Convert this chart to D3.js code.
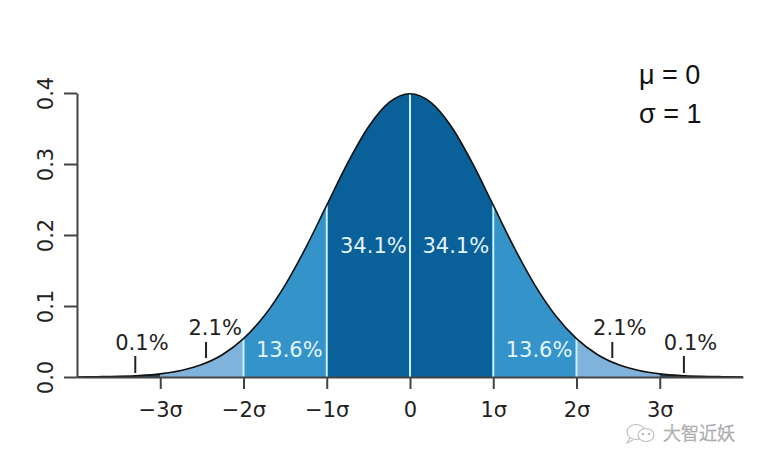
<!DOCTYPE html>
<html>
<head>
<meta charset="utf-8">
<script src="https://cdn.jsdelivr.net/npm/d3@7"></script>
<style>
  body { margin: 0; background: #fff; }
  svg { display: block; }
</style>
</head>
<body>
<div id="chart"></div>
<script>
// density of the curve, every quarter sigma
const curveX = [-4, -3.75, -3.5, -3.25, -3, -2.75, -2.5, -2.25, -2, -1.75, -1.5, -1.25, -1, -0.75, -0.5, -0.25,
  0, 0.25, 0.5, 0.75, 1, 1.25, 1.5, 1.75, 2, 2.25, 2.5, 2.75, 3, 3.25, 3.5, 3.75, 4];
const curveY = [0.0001, 0.0004, 0.0009, 0.0020, 0.0044, 0.0091, 0.0175, 0.0317, 0.0540, 0.0863, 0.1295, 0.1826,
  0.2420, 0.3011, 0.3521, 0.3867, 0.3989, 0.3867, 0.3521, 0.3011, 0.2420, 0.1826, 0.1295, 0.0863, 0.0540,
  0.0317, 0.0175, 0.0091, 0.0044, 0.0020, 0.0009, 0.0004, 0.0001];

// shaded bands (in sigma)
const bandStart = [-4, -3, -2, -1, 1, 2, 3];
const bandEnd = [-3, -2, -1, 1, 2, 3, 4];
const bandColor = ["#26465a", "#80b3dc", "#3493c9", "#0a6199", "#3493c9", "#80b3dc", "#26465a"];
const dividers = [-2, -1, 0, 1, 2];

// percentages inside the bands
const innerLabels = ["13.6%", "34.1%", "34.1%", "13.6%"];
const innerAt = [-1.45, -0.44, 0.55, 1.55];

// percentages above the tails, with a pointer tick
const outerLabels = ["0.1%", "2.1%", "2.1%", "0.1%"];
const outerAt = [-3.22, -2.34, 2.52, 3.37];
const outerTickAt = [-3.3, -2.45, 2.43, 3.29];
const outerLevel = ["low", "high", "high", "low"];

const xTicks = [-3, -2, -1, 0, 1, 2, 3];
const xTickLabels = ["\u22123\u03c3", "\u22122\u03c3", "\u22121\u03c3", "0", "1\u03c3", "2\u03c3", "3\u03c3"];
const yTicks = [0.0, 0.1, 0.2, 0.3, 0.4];

const params = ["\u03bc = 0", "\u03c3 = 1"];

const width = 763, height = 464;
const font = "'DejaVu Sans', sans-serif";

const svg = d3.select("#chart").append("svg")
  .attr("width", width).attr("height", height)
  .style("background", "#fff");

const x = d3.scaleLinear().domain([-4, 4]).range([77, 743]);
const y = d3.scaleLinear().domain([0, 0.4]).range([377, 93]);

const pts = curveX.map((d, i) => ({ x: d, y: curveY[i] }));

// bands
const area = d3.area()
  .x(d => x(d.x))
  .y0(y(0))
  .y1(d => y(d.y))
  .curve(d3.curveMonotoneX);

bandStart.forEach((a, i) => {
  const b = bandEnd[i];
  svg.append("path")
    .attr("d", area(pts.filter(p => p.x >= a && p.x <= b)))
    .attr("fill", bandColor[i]);
});

// divider lines
svg.selectAll(".divider")
  .data(dividers)
  .join("line")
  .attr("class", "divider")
  .attr("x1", d => x(d)).attr("x2", d => x(d))
  .attr("y1", y(0))
  .attr("y2", d => y(curveY[curveX.indexOf(d)]))
  .attr("stroke", "#c9f1ff")
  .attr("stroke-width", 2);

// the curve
const line = d3.line()
  .x(d => x(d.x))
  .y(d => y(d.y))
  .curve(d3.curveMonotoneX);

svg.append("path")
  .attr("d", line(pts))
  .attr("fill", "none")
  .attr("stroke", "#111")
  .attr("stroke-width", 1.6);

// axes
const xAxis = svg.append("g")
  .attr("transform", "translate(0," + y(0) + ")")
  .call(d3.axisBottom(x).tickValues(xTicks).tickSize(12).tickSizeOuter(0)
    .tickFormat((d, i) => xTickLabels[i]));

xAxis.selectAll("text")
  .attr("y", 40).attr("dy", null)
  .attr("fill", "#222")
  .style("font", "21px " + font);

const yAxis = svg.append("g")
  .attr("transform", "translate(" + x(-4) + ",0)")
  .call(d3.axisLeft(y).tickValues(yTicks).tickSize(13).tickSizeOuter(0)
    .tickFormat(d3.format(".1f")));

yAxis.selectAll("text")
  .attr("x", 0).attr("y", -31).attr("dy", null)
  .attr("transform", "rotate(-90)")
  .attr("text-anchor", "middle")
  .attr("dominant-baseline", "central")
  .attr("fill", "#222")
  .style("font", "21px " + font);

svg.selectAll(".domain, .tick line")
  .attr("stroke", "#444")
  .attr("stroke-width", 2);

// labels inside bands
svg.selectAll(".inner")
  .data(innerLabels)
  .join("text")
  .attr("class", "inner")
  .attr("x", (d, i) => x(innerAt[i]))
  .attr("y", (d, i) => (Math.abs(innerAt[i]) < 1 ? 253 : 357))
  .attr("text-anchor", "middle")
  .attr("fill", "#e3f5ff")
  .style("font", "21px " + font)
  .text(d => d);

// labels above tails
svg.selectAll(".outer")
  .data(outerLabels)
  .join("text")
  .attr("class", "outer")
  .attr("x", (d, i) => x(outerAt[i]))
  .attr("y", (d, i) => (outerLevel[i] === "high" ? 335 : 350))
  .attr("text-anchor", "middle")
  .attr("fill", "#222")
  .style("font", "21px " + font)
  .text(d => d);

svg.selectAll(".pointer")
  .data(outerTickAt)
  .join("line")
  .attr("class", "pointer")
  .attr("x1", d => x(d)).attr("x2", d => x(d))
  .attr("y1", (d, i) => (outerLevel[i] === "high" ? 342 : 356))
  .attr("y2", (d, i) => (outerLevel[i] === "high" ? 358 : 373))
  .attr("stroke", "#222")
  .attr("stroke-width", 2);

// parameters, top right
svg.selectAll(".param")
  .data(params)
  .join("text")
  .attr("class", "param")
  .attr("x", 639)
  .attr("y", (d, i) => 84 + i * 39)
  .attr("fill", "#111")
  .attr("xml:space", "preserve")
  .style("font", "27px 'Liberation Sans', sans-serif")
  .text(d => d);

// watermark
const wm = svg.append("g").attr("fill", "none").attr("stroke", "#bdbdbd").attr("stroke-width", 1.1);
wm.append("ellipse").attr("cx", 636).attr("cy", 432).attr("rx", 9).attr("ry", 7.5);
wm.append("ellipse").attr("cx", 646).attr("cy", 435).attr("rx", 8).attr("ry", 6.5).attr("fill", "#fff");
wm.append("path").attr("d", "M630,438 l-3,5 l6,-3");
wm.append("circle").attr("cx", 643).attr("cy", 434).attr("r", 0.8).attr("fill", "#bdbdbd");
wm.append("circle").attr("cx", 649).attr("cy", 434).attr("r", 0.8).attr("fill", "#bdbdbd");
svg.append("text")
  .attr("x", 663).attr("y", 440)
  .attr("fill", "#f4f4f4")
  .attr("stroke", "#a0a0a0")
  .attr("stroke-width", 0.6)
  .style("font", "300 18px 'Noto Sans CJK SC', sans-serif")
  .text("大智近妖");
</script>
</body>
</html>
